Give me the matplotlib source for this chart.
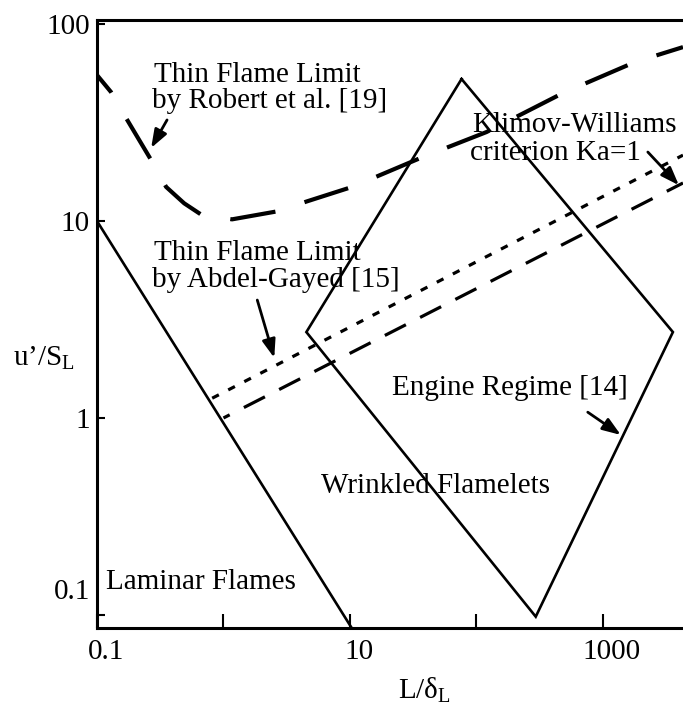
import matplotlib
matplotlib.use('Agg')
import matplotlib.pyplot as plt
from matplotlib.transforms import ScaledTranslation

# boundaries (L/delta_L, u'/S_L)
laminar_x = [0.1, 10.3]
laminar_y = [10.0, 0.086]

engine_x = [76.2, 3570, 294, 4.52, 76.2]
engine_y = [52.6, 2.73, 0.098, 2.73, 52.6]

robert_x = [0.1, 0.129, 0.17, 0.268, 0.352, 0.489, 0.678, 1.17, 2.66, 4.60, 10.4, 37.4, 120, 481, 1786, 4290]
robert_y = [55.1, 45.2, 33.3, 20.4, 14.9, 12.3, 10.7, 10.2, 11.2, 12.6, 14.9, 21.1, 28.3, 44.6, 64.1, 76.4]

abdel_x = [0.814, 4290]
abdel_y = [1.26, 21.6]

klimov_x = [1.0, 4290]
klimov_y = [1.0, 15.6]

x_ticks = [0.1, 1, 10, 100, 1000]
x_ticklabels = ['0.1', '', '10', '', '1000']
y_ticks = [0.1, 1, 10, 100]
y_ticklabels = ['0.1', '1', '10', '100']

# (text, x, y) at left / baseline
labels = [
    ('Thin Flame Limit', 0.283, 50.9),
    ('by Robert et al. [19]', 0.273, 37.3),
    ('Thin Flame Limit', 0.283, 6.34),
    ('by Abdel-Gayed [15]', 0.273, 4.62),
    ('Klimov-Williams', 93.1, 28.4),
    ('criterion Ka=1', 88.2, 20.4),
    ('Engine Regime [14]', 21.3, 1.31),
    ('Wrinkled Flamelets', 5.94, 0.416),
    ('Laminar Flames', 0.118, 0.1355),
]

# (start, tip)
arrows = [
    ((0.358, 32.6), (0.268, 23.5)),
    ((1.85, 3.97), (2.52, 2.02)),
    ((2262, 22.4), (3981, 15.2)),
    ((758, 1.07), (1383, 0.820)),
]

plt.rcParams['font.family'] = ['Liberation Serif', 'DejaVu Serif']
plt.rcParams['mathtext.fontset'] = 'custom'
plt.rcParams['mathtext.rm'] = 'Liberation Serif'
plt.rcParams['lines.scale_dashes'] = False
FS = 21

fig = plt.figure(figsize=(6.83, 7.09), dpi=100)
ax = fig.add_axes([0.142, 0.1142, 0.858, 0.8575])
ax.set_xscale('log')
ax.set_yscale('log')
ax.set_xlim(0.1, 4290)
ax.set_ylim(0.0858, 104.8)

ax.plot(laminar_x, laminar_y, color='k', lw=1.9)
ax.plot(engine_x, engine_y, color='k', lw=1.9, solid_joinstyle='miter')
ax.plot(robert_x, robert_y, color='k', lw=3.0, linestyle=(16.6, (33, 22)))
ax.plot(abdel_x, abdel_y, color='k', lw=2.3, linestyle=(0, (5.4, 7.6)))
ax.plot(klimov_x, klimov_y, color='k', lw=2.3, linestyle=(12, (17, 11.5)))

for txt, x, y in labels:
    ax.text(x, y, txt, fontsize=FS, ha='left', va='baseline')

for start, tip in arrows:
    ax.annotate('', xy=tip, xytext=start,
                arrowprops=dict(arrowstyle='-|>,head_length=1.1,head_width=0.4',
                                color='k', lw=2.0, shrinkA=0, shrinkB=0,
                                mutation_scale=10))

for side in ['left', 'bottom', 'top']:
    ax.spines[side].set_linewidth(2.2)
ax.spines['right'].set_visible(False)

ax.set_xticks(x_ticks)
ax.set_xticklabels(x_ticklabels)
ax.set_yticks(y_ticks)
ax.set_yticklabels(y_ticklabels)
ax.minorticks_off()
ax.tick_params(axis='x', direction='in', length=10, width=1.5, pad=8, labelsize=FS)
ax.tick_params(axis='y', direction='in', length=6, width=1.5, pad=5, labelsize=FS)

for lab in ax.get_xticklabels():
    lab.set_transform(lab.get_transform() + ScaledTranslation(0.09, 0, fig.dpi_scale_trans))
low = ax.get_yticklabels()[0]
low.set_transform(low.get_transform() + ScaledTranslation(0, 0.26, fig.dpi_scale_trans))

fig.text(13 / 683, 1 - 365 / 709, "u’/S$_\\mathregular{L}$", fontsize=FS, ha='left', va='baseline')
fig.text(398 / 683, 1 - 698 / 709, "L/δ$_\\mathregular{L}$", fontsize=FS, ha='left', va='baseline')

fig.savefig('out.png', dpi=100)
